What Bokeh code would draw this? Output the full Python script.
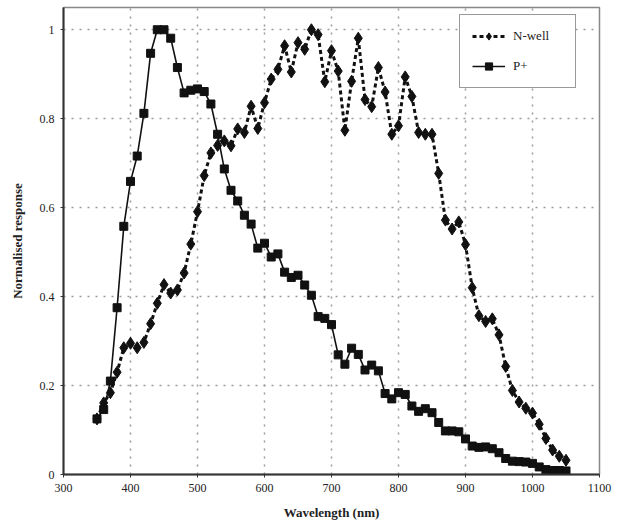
from bokeh.plotting import figure
from bokeh.models import Range1d, FixedTicker, Legend, LegendItem
from bokeh.embed import file_html
from bokeh.resources import INLINE

wavelength = list(range(350, 1060, 10))

nwell = [0.125, 0.161, 0.184, 0.23, 0.285, 0.295, 0.285, 0.297, 0.339, 0.385,
         0.427, 0.408, 0.415, 0.453, 0.518, 0.591, 0.672, 0.723, 0.740, 0.750,
         0.739, 0.777, 0.769, 0.828, 0.778, 0.836, 0.889, 0.911, 0.964, 0.905,
         0.971, 0.956, 1.0, 0.989, 0.883, 0.953, 0.907, 0.774, 0.884, 0.981,
         0.843, 0.827, 0.915, 0.860, 0.765, 0.784, 0.894, 0.850, 0.769, 0.765,
         0.765, 0.677, 0.572, 0.552, 0.568, 0.517, 0.420, 0.357, 0.344, 0.350,
         0.314, 0.243, 0.189, 0.163, 0.149, 0.138, 0.113, 0.081, 0.055, 0.041,
         0.032]

pplus = [0.125, 0.146, 0.21, 0.375, 0.558, 0.659, 0.716, 0.812, 0.947, 1.0,
         1.0, 0.981, 0.915, 0.858, 0.864, 0.867, 0.861, 0.833, 0.765, 0.687,
         0.639, 0.615, 0.583, 0.563, 0.509, 0.520, 0.489, 0.496, 0.455, 0.443,
         0.448, 0.426, 0.403, 0.355, 0.351, 0.337, 0.269, 0.248, 0.284, 0.270,
         0.235, 0.246, 0.233, 0.182, 0.170, 0.184, 0.180, 0.154, 0.142, 0.148,
         0.139, 0.117, 0.098, 0.098, 0.096, 0.080, 0.064, 0.061, 0.062, 0.058,
         0.049, 0.036, 0.030, 0.029, 0.028, 0.025, 0.017, 0.011, 0.009, 0.009,
         0.008]

x_ticks = [300, 400, 500, 600, 700, 800, 900, 1000, 1100]
y_ticks = [0, 0.2, 0.4, 0.6, 0.8, 1.0]
y_tick_labels = {0: "0", 0.2: "0.2", 0.4: "0.4", 0.6: "0.6", 0.8: "0.8", 1.0: "1"}

SERIF = "Liberation Serif"

p = figure(width=621, height=529, output_backend="svg", toolbar_location=None,
           x_range=Range1d(300, 1100), y_range=Range1d(0, 1.05),
           min_border_left=63, min_border_right=22, min_border_top=7,
           min_border_bottom=55)

p.background_fill_color = "white"
p.border_fill_color = "white"
p.outline_line_color = "#888888"
p.outline_line_width = 1.5

for ax in (p.xaxis[0], p.yaxis[0]):
    ax.axis_line_color = "#333333"
    ax.axis_line_width = 2
    ax.major_tick_line_color = "#333333"
    ax.major_tick_in = 0
    ax.major_tick_out = 3
    ax.minor_tick_line_color = None
    ax.major_label_text_font = SERIF
    ax.major_label_text_font_size = "12px"
    ax.major_label_text_color = "#222222"
    ax.axis_label_text_font = SERIF
    ax.axis_label_text_font_style = "bold"
    ax.axis_label_text_font_size = "13px"
    ax.axis_label_text_color = "#222222"

p.xaxis.ticker = FixedTicker(ticks=x_ticks)
p.yaxis.ticker = FixedTicker(ticks=y_ticks)
p.yaxis.major_label_overrides = y_tick_labels
p.xaxis.axis_label = "Wavelength (nm)"
p.yaxis.axis_label = "Normalised response"
p.xaxis.major_label_standoff = 6
p.xaxis.axis_label_standoff = 10
p.yaxis.major_label_standoff = 6
p.yaxis.axis_label_standoff = 12

for g in (p.xgrid[0], p.ygrid[0]):
    g.grid_line_color = "#9a9a9a"
    g.grid_line_dash = "2 6"
    g.grid_line_width = 1.5

r_n_line = p.line(wavelength, nwell, line_color="#111111", line_width=3,
                  line_dash="4 3")
r_n_mark = p.scatter(wavelength, nwell, marker="diamond", size=12,
                     fill_color="#111111", line_color="#111111")
r_p_line = p.line(wavelength, pplus, line_color="#111111", line_width=1.6)
r_p_mark = p.scatter(wavelength, pplus, marker="square", size=8,
                     fill_color="#111111", line_color="#111111")

legend = Legend(items=[
    LegendItem(label="N-well", renderers=[r_n_line, r_n_mark]),
    LegendItem(label="P+", renderers=[r_p_line, r_p_mark]),
], location=(396, 386))
legend.border_line_color = "#333333"
legend.border_line_width = 1.5
legend.background_fill_color = "white"
legend.background_fill_alpha = 1
legend.label_text_font = SERIF
legend.label_text_font_size = "13px"
legend.label_text_color = "#222222"
legend.glyph_width = 33
legend.glyph_height = 18
legend.label_height = 18
legend.label_standoff = 8
legend.padding = 12
legend.spacing = 12
legend.margin = 0
legend.label_width = 50
p.add_layout(legend)

open("out.html", "w").write(file_html(p, INLINE))
